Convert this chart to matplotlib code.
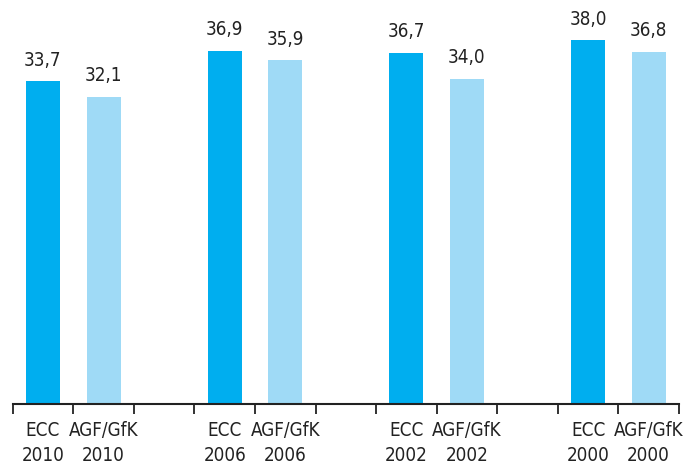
import matplotlib
matplotlib.use("Agg")
import matplotlib.pyplot as plt
from matplotlib.ticker import FixedLocator

categories = ["ECC\n2010", "AGF/GfK\n2010", "ECC\n2006", "AGF/GfK\n2006",
              "ECC\n2002", "AGF/GfK\n2002", "ECC\n2000", "AGF/GfK\n2000"]
values = [33.7, 32.1, 36.9, 35.9, 36.7, 34.0, 38.0, 36.8]
value_labels = ["33,7", "32,1", "36,9", "35,9", "36,7", "34,0", "38,0", "36,8"]
series = ["ECC", "AGF", "ECC", "AGF", "ECC", "AGF", "ECC", "AGF"]
colors = {"ECC": "#00AEEF", "AGF": "#9FDAF6"}

font = dict(family="DejaVu Sans", stretch="condensed")

fig = plt.figure(figsize=(6.94, 4.69), dpi=100)
ax = fig.add_axes([0.0183, 0.1386, 0.96, 0.8614])

positions = [g * 3 + k for g in range(4) for k in range(2)]
ax.bar(positions, values, width=0.56, color=[colors[s] for s in series])
for x, v, lab in zip(positions, values, value_labels):
    ax.text(x, v + 1.2, lab, ha="center", va="bottom", fontsize=13.5,
            color="#222222", **font)

ax.set_xlim(-0.5, 10.5)
ax.set_ylim(0, 42.2)
for s in ["top", "right", "left"]:
    ax.spines[s].set_visible(False)
ax.spines["bottom"].set_linewidth(1.5)
ax.spines["bottom"].set_color("#222222")
ax.set_yticks([])

ax.xaxis.set_major_locator(FixedLocator([i - 0.5 for i in range(12)]))
ax.xaxis.set_minor_locator(FixedLocator(positions))
ax.tick_params(axis="x", which="major", length=7, width=1.3, color="#222222",
               labelbottom=False, direction="out")
ax.tick_params(axis="x", which="minor", length=0, pad=12)
ax.set_xticks(positions, minor=True)
ax.set_xticklabels(categories, minor=True, fontsize=13.5, color="#222222",
                   linespacing=1.4, **font)

fig.savefig("out.png", dpi=100)
